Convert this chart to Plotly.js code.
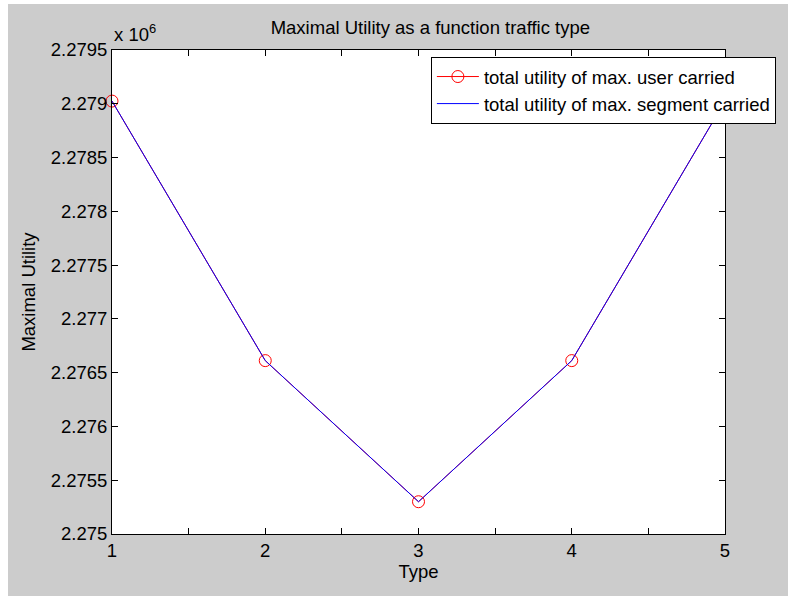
<!DOCTYPE html>
<html>
<head>
<meta charset="utf-8">
<script src="https://cdn.plot.ly/plotly-3.0.1.min.js"></script>
<style>
  html, body { margin: 0; padding: 0; background: #ffffff; }
  #chart { position: absolute; left: 8px; top: 4px; width: 780px; height: 592px; }
</style>
</head>
<body>
<div id="chart"></div>
<script>
// ---- data ----
const types = [1, 2, 3, 4, 5];
const userCarried = [2279025, 2276612, 2275300, 2276612, 2279025];
const segmentCarried = [2279025, 2276612, 2275300, 2276612, 2279025];

const xTickVals = [1, 1.5, 2, 2.5, 3, 3.5, 4, 4.5, 5];
const xTickText = ['1', '', '2', '', '3', '', '4', '', '5'];
const yTickVals = [2275000, 2275500, 2276000, 2276500, 2277000, 2277500, 2278000, 2278500, 2279000, 2279500];
const yTickText = ['2.275', '2.2755', '2.276', '2.2765', '2.277', '2.2775', '2.278', '2.2785', '2.279', '2.2795'];

const seriesNames = ['total utility of max. user carried', 'total utility of max. segment carried'];

const FONT = 'Liberation Sans, Arial, Helvetica, sans-serif';
const FS = 18.5;

const traces = [
  {
    x: types, y: userCarried, name: seriesNames[0],
    type: 'scatter', mode: 'lines+markers',
    line: { color: '#ff0000', width: 1 },
    marker: { symbol: 'circle-open', size: 12, color: '#ff0000', line: { width: 1, color: '#ff0000' } },
    cliponaxis: false
  },
  {
    x: types, y: segmentCarried, name: seriesNames[1],
    type: 'scatter', mode: 'lines',
    line: { color: '#0000ff', width: 1 },
    cliponaxis: false
  }
];

const layout = {
  width: 780, height: 592,
  paper_bgcolor: '#cccccc',
  plot_bgcolor: '#ffffff',
  margin: { l: 104, r: 61, t: 46, b: 62 },
  font: { family: FONT, size: FS, color: '#000000' },
  title: {
    text: 'Maximal Utility as a function traffic type',
    font: { family: FONT, size: FS, color: '#000000' },
    x: 0.5415, xanchor: 'center', y: 0.96, yanchor: 'middle'
  },
  xaxis: {
    range: [1, 5],
    tickvals: xTickVals, ticktext: xTickText,
    ticks: 'inside', ticklen: 6, tickcolor: '#000000', tickwidth: 1,
    showline: true, linecolor: '#000000', linewidth: 1, mirror: 'ticks',
    showgrid: false, zeroline: false,
    tickfont: { family: FONT, size: FS },
    title: { text: 'Type', font: { family: FONT, size: FS }, standoff: 4 }
  },
  yaxis: {
    range: [2275000, 2279500],
    tickvals: yTickVals, ticktext: yTickText,
    ticks: 'inside', ticklen: 6, tickcolor: '#000000', tickwidth: 1,
    showline: true, linecolor: '#000000', linewidth: 1, mirror: 'ticks',
    showgrid: false, zeroline: false,
    tickfont: { family: FONT, size: FS },
    title: { text: 'Maximal Utility', font: { family: FONT, size: FS }, standoff: 10 }
  },
  legend: {
    x: 1.083, xanchor: 'right', y: 0.9855, yanchor: 'top',
    bgcolor: '#ffffff', bordercolor: '#000000', borderwidth: 1,
    font: { family: FONT, size: FS },
    itemwidth: 42,
    tracegroupgap: 0
  },
  showlegend: true,
  annotations: [
    {
      text: 'x 10<sup>6</sup>', xref: 'paper', yref: 'paper',
      x: 0, xanchor: 'left', y: 1.0, yanchor: 'bottom', yshift: 3,
      showarrow: false, font: { family: FONT, size: FS }
    }
  ]
};

Plotly.newPlot('chart', traces, layout, { displayModeBar: false, staticPlot: true });
</script>
</body>
</html>
